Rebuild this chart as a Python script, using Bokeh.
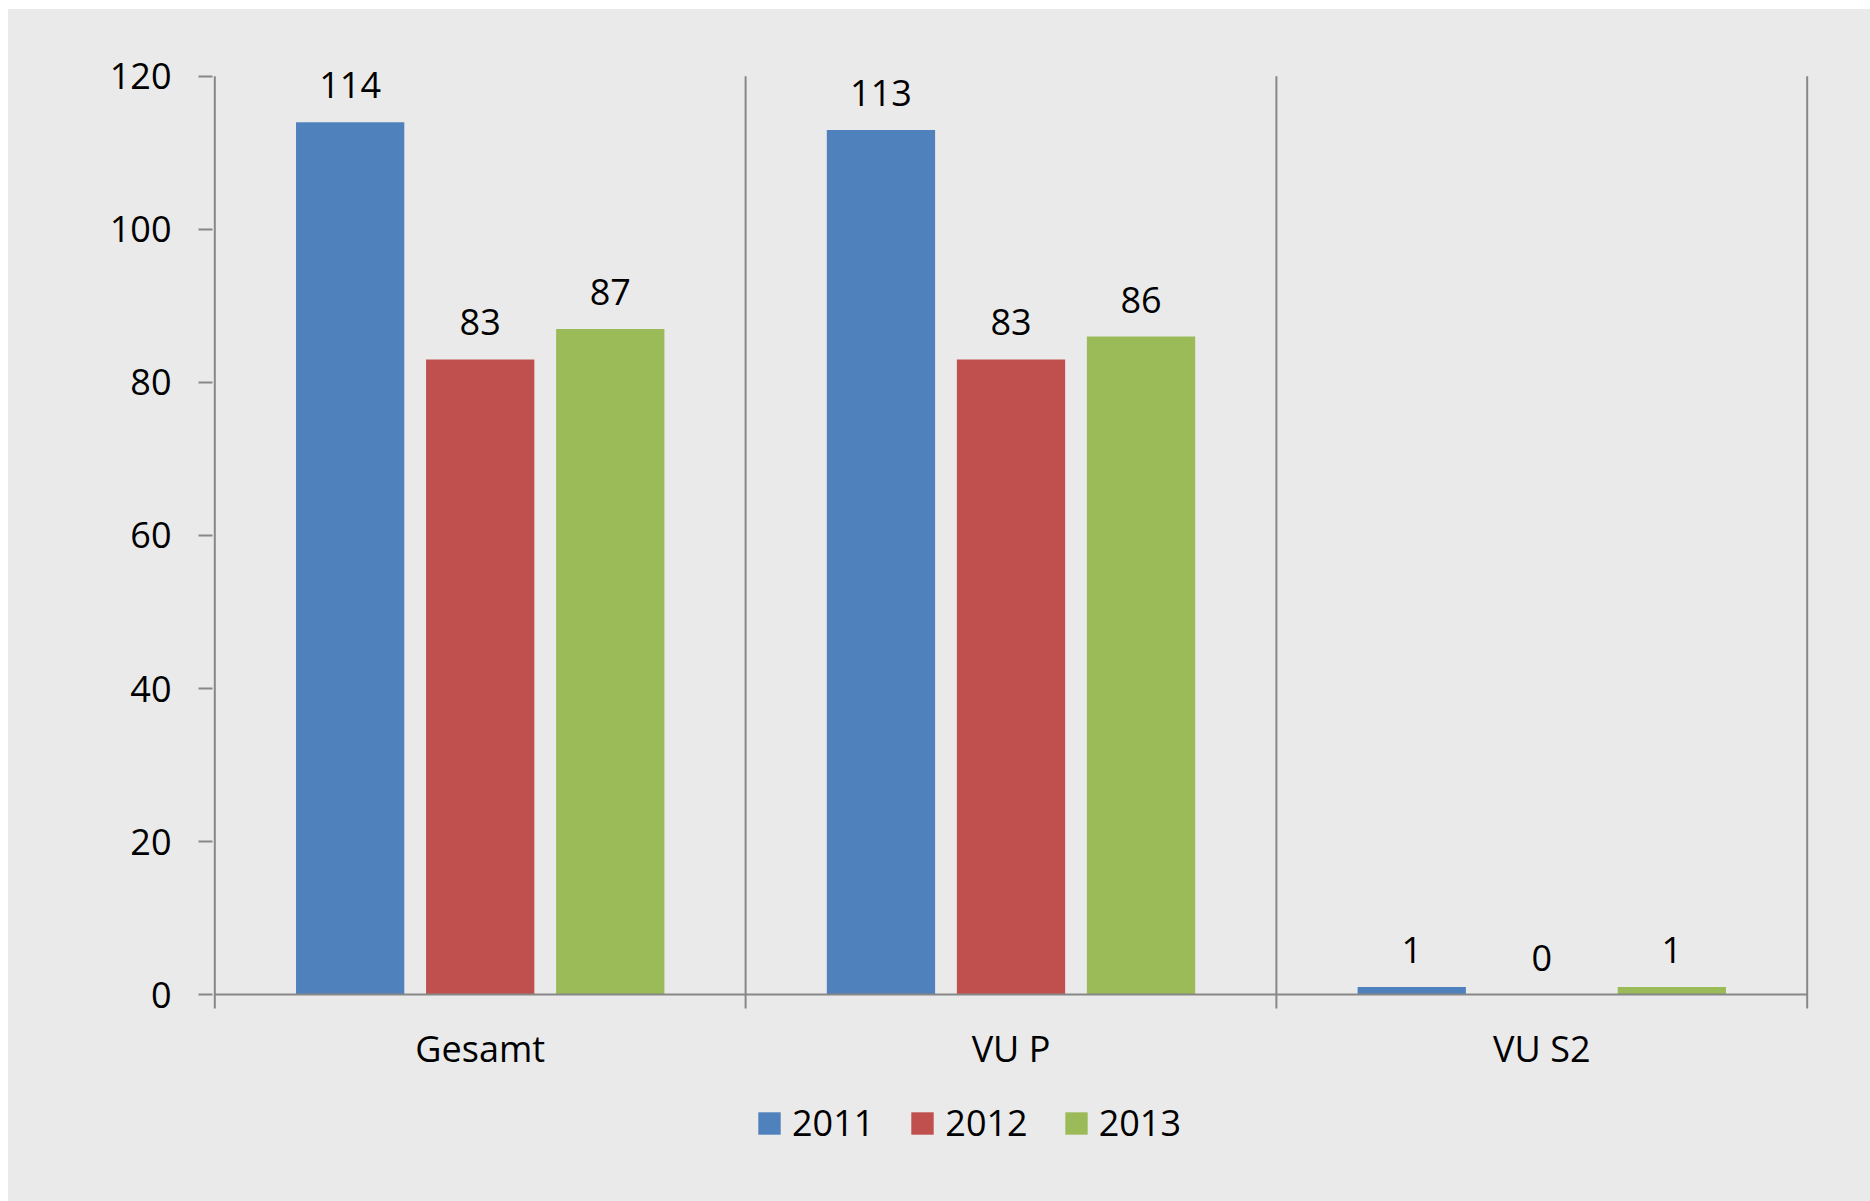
from bokeh.plotting import figure
from bokeh.models import (ColumnDataSource, FactorRange, Range1d, Legend, LegendItem,
                          FixedTicker)
from bokeh.transform import dodge
from bokeh.core.properties import value
from bokeh.embed import file_html
from bokeh.resources import INLINE

categories = ["Gesamt", "VU P", "VU S2"]
years = ["2011", "2012", "2013"]
v2011 = [114, 113, 1]
v2012 = [83, 83, 0]
v2013 = [87, 86, 1]
y_ticks = [0, 20, 40, 60, 80, 100, 120]

colors = ["#4F81BD", "#C0504D", "#9BBB59"]
offsets = [-0.245, 0.0, 0.245]
BG = "#EAEAEA"
AX = "#878787"
FONT = "Open Sans"
FS = "36px"
Y_MIN, Y_MAX = -1.8, 120

p = figure(x_range=FactorRange(factors=categories, range_padding=0.01,
                               range_padding_units="absolute"),
           y_range=Range1d(-25.6, 127.3),
           width=1862, height=1192, output_backend="svg", toolbar_location=None,
           min_border_left=201, min_border_right=58, min_border_top=11, min_border_bottom=11)
p.margin = (9, 0, 0, 8)
p.styles = {"background-color": BG}
p.background_fill_alpha = 0
p.border_fill_alpha = 0
p.outline_line_color = None
p.xgrid.visible = False
p.ygrid.visible = False

src = ColumnDataSource(dict(cat=categories, v2011=v2011, v2012=v2012, v2013=v2013,
                            l2011=[str(v) for v in v2011], l2012=[str(v) for v in v2012],
                            l2013=[str(v) for v in v2013]))

renderers = []
for yr, col, off in zip(years, colors, offsets):
    r = p.vbar(x=dodge("cat", off, range=p.x_range), top="v" + yr, width=0.204, bottom=0,
               source=src, fill_color=col, line_color=None)
    renderers.append(r)
    p.text(x=dodge("cat", off, range=p.x_range), y="v" + yr, text="l" + yr, source=src,
           text_align="center", text_baseline="alphabetic", y_offset=-37,
           text_font=value(FONT), text_font_size=FS, text_color="black")

# axis lines: zero line and category boundaries (incl. the value axis at x=0)
n = len(categories)
bounds = list(range(n + 1))
p.segment(x0=bounds, y0=[Y_MIN] * (n + 1), x1=bounds, y1=[Y_MAX] * (n + 1),
          line_color=AX, line_width=2)
p.segment(x0=[0], y0=[0], x1=[n], y1=[0], line_color=AX, line_width=2)

# y axis
p.yaxis.ticker = FixedTicker(ticks=y_ticks)
p.yaxis.bounds = (Y_MIN, Y_MAX)
p.yaxis.axis_line_color = None
p.yaxis.major_tick_line_color = AX
p.yaxis.major_tick_line_width = 2
p.yaxis.major_tick_out = 11
p.yaxis.major_tick_in = 3
p.yaxis.minor_tick_line_color = None
p.yaxis.major_label_standoff = 27
p.yaxis.major_label_text_font = FONT
p.yaxis.major_label_text_font_size = FS
p.yaxis.major_label_text_color = "black"

# x axis (category labels)
p.xaxis.fixed_location = Y_MIN
p.xaxis.axis_line_color = None
p.xaxis.major_tick_line_color = None
p.xaxis.major_tick_out = 0
p.xaxis.major_tick_in = 0
p.xaxis.minor_tick_line_color = None
p.xaxis.major_label_standoff = 16
p.xaxis.major_label_text_font = FONT
p.xaxis.major_label_text_font_size = FS
p.xaxis.major_label_text_color = "black"

legend = Legend(items=[LegendItem(label=yr, renderers=[r]) for yr, r in zip(years, renderers)],
                orientation="horizontal", location=(546, 43),
                glyph_width=28, glyph_height=28, label_standoff=9, spacing=34,
                padding=0, margin=0, background_fill_alpha=0, border_line_color=None,
                label_text_font=FONT, label_text_font_size=FS, label_text_color="black",
                label_text_baseline="middle")
p.add_layout(legend, "center")

open("out.html", "w").write(file_html(p, INLINE))
